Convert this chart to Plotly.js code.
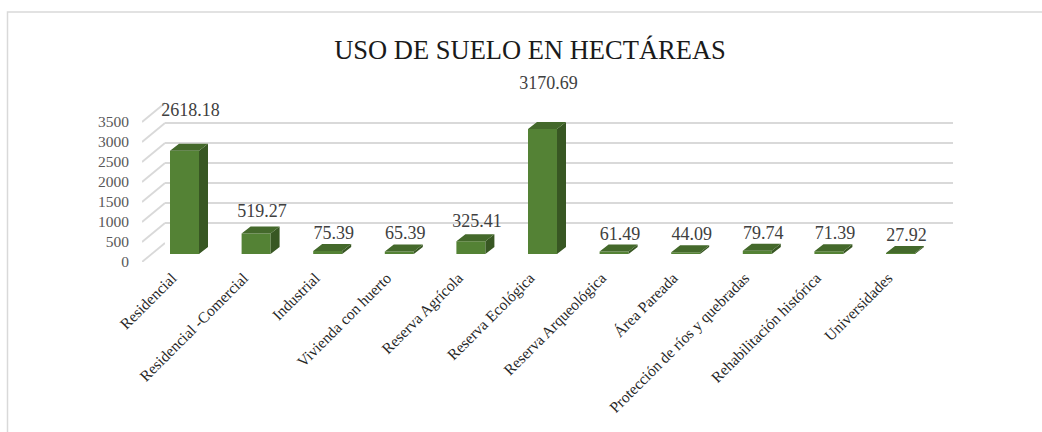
<!DOCTYPE html>
<html>
<head>
<meta charset="utf-8">
<script src="https://cdn.plot.ly/plotly-3.0.1.min.js"></script>
<style>html,body{margin:0;padding:0;background:#fff;}#chart{width:1042px;height:432px;}</style>
</head>
<body>
<div id="chart"></div>
<script>
// ---- data ----
const categories = [
  "Residencial", "Residencial -Comercial", "Industrial", "Vivienda con huerto",
  "Reserva Agrícola", "Reserva Ecológica", "Reserva Arqueológica", "Área Pareada",
  "Protección de ríos y quebradas", "Rehabilitación histórica", "Universidades"
];
const hectareas = [2618.18, 519.27, 75.39, 65.39, 325.41, 3170.69, 61.49, 44.09, 79.74, 71.39, 27.92];
const valueLabels = ["2618.18", "519.27", "75.39", "65.39", "325.41", "3170.69", "61.49", "44.09", "79.74", "71.39", "27.92"];
const yTicks = [0, 500, 1000, 1500, 2000, 2500, 3000, 3500];
const chartTitle = "USO DE SUELO EN HECTÁREAS";

// ---- geometry helpers (pixel -> paper) ----
const W = 1042, H = 432;
const fx = px => px / W;
const fy = py => 1 - py / H;

const idx = categories.map((_, i) => i);
const barW = 0.405;          // in category units
const depthX = 9 / 71.6;     // category units
const depthV = 7 / 0.0394;   // value units

// side and top faces computed from the values
const sideX = [], sideY = [], topX = [], topY = [];
hectareas.forEach((v, i) => {
  const l = i - barW / 2, r = i + barW / 2;
  sideX.push(r, r + depthX, r + depthX, r, null);
  sideY.push(0, depthV, v + depthV, v, null);
  topX.push(l, l + depthX, r + depthX, r, null);
  topY.push(v, v + depthV, v + depthV, v, null);
});

// diagonal wall lines for each tick
const diagX = [], diagY = [];
yTicks.forEach(t => { diagX.push(0, 1, null); diagY.push(t, t + 475, null); });

const serif = "Liberation Serif, Times New Roman, serif";

const traces = [
  // back-wall grid holder
  {type: "scatter", x: [0, 1], y: [0, 0], xaxis: "x", yaxis: "y", mode: "lines",
   line: {width: 0, color: "rgba(0,0,0,0)"}, hoverinfo: "skip", showlegend: false},
  // diagonal lines
  {type: "scatter", x: diagX, y: diagY, xaxis: "x2", yaxis: "y2", mode: "lines",
   line: {width: 1.8, color: "#d9d9d9"}, hoverinfo: "skip", showlegend: false},
  // bar fronts
  {type: "bar", x: idx, y: hectareas, xaxis: "x3", yaxis: "y3", width: barW,
   marker: {color: "#548235", line: {width: 0}}, hoverinfo: "skip", showlegend: false},
  // side faces
  {type: "scatter", x: sideX, y: sideY, xaxis: "x3", yaxis: "y3", mode: "lines",
   fill: "toself", fillcolor: "#385723", line: {width: 0, color: "#385723"},
   hoverinfo: "skip", showlegend: false},
  // top faces
  {type: "scatter", x: topX, y: topY, xaxis: "x3", yaxis: "y3", mode: "lines",
   fill: "toself", fillcolor: "#44692b", line: {width: 0, color: "#44692b"},
   hoverinfo: "skip", showlegend: false},
  // data labels
  {type: "scatter", x: idx, y: hectareas, xaxis: "x4", yaxis: "y4", mode: "text",
   text: valueLabels, textposition: "middle center",
   textfont: {family: serif, size: 18, color: "#404040"},
   cliponaxis: false, hoverinfo: "skip", showlegend: false},
  // category label axis holder
  {type: "scatter", x: idx, y: idx.map(() => 0), xaxis: "x5", yaxis: "y3", mode: "markers",
   marker: {size: 0.1, color: "rgba(0,0,0,0)"}, hoverinfo: "skip", showlegend: false}
];

const layout = {
  width: W, height: H,
  margin: {l: 0, r: 0, t: 0, b: 0},
  paper_bgcolor: "#ffffff", plot_bgcolor: "rgba(0,0,0,0)",
  showlegend: false,
  title: {text: chartTitle, x: fx(530), y: fy(50), xanchor: "center", yanchor: "middle",
          xref: "paper", yref: "paper",
          font: {family: serif, size: 26.5, color: "#1a1a1a"}},
  // back wall grid
  xaxis: {domain: [fx(165), fx(953)], range: [0, 1], visible: false, fixedrange: true},
  yaxis: {domain: [fy(243), fy(103)], range: [0, 3500], anchor: "x",
          tickmode: "array", tickvals: yTicks, showgrid: true, gridcolor: "#d9d9d9",
          gridwidth: 2, zeroline: false, showline: false, showticklabels: false,
          ticks: "", fixedrange: true},
  // diagonal + tick labels
  xaxis2: {domain: [fx(142), fx(165)], range: [0, 1], visible: false, anchor: "y2", fixedrange: true},
  yaxis2: {domain: [fy(262), fy(102)], range: [0, 4000], anchor: "x2",
           tickmode: "array", tickvals: yTicks, ticktext: yTicks.map(String),
           showgrid: false, zeroline: false, showline: false, ticks: "",
           ticklabelstandoff: 12,
           tickfont: {family: serif, size: 15.5, color: "#595959"}, fixedrange: true},
  // bars
  xaxis3: {domain: [fx(148.7), fx(936.3)], range: [-0.5, 10.5], anchor: "y3",
           showticklabels: false, showgrid: false, zeroline: false, showline: false, ticks: "",
           fixedrange: true},
  yaxis3: {domain: [fy(254), fy(254 - 0.0394 * 4000)], range: [0, 4000], anchor: "x3",
           visible: false, fixedrange: true},
  // labels
  xaxis4: {domain: [fx(154.7), fx(942.3)], range: [-0.5, 10.5], anchor: "y4", visible: false, fixedrange: true},
  yaxis4: {domain: [fy(238), fy(238 - 0.0483 * 4000)], range: [0, 4000], anchor: "x4",
           visible: false, fixedrange: true},
  // category labels (slightly shifted)
  xaxis5: {domain: [fx(136.2), fx(923.8)], range: [-0.5, 10.5], anchor: "y3",
           tickmode: "array", tickvals: idx, ticktext: categories, tickangle: -45,
           showgrid: false, zeroline: false, showline: false, ticks: "",
           ticklabelstandoff: 11,
           tickfont: {family: serif, size: 15.5, color: "#262626"}, fixedrange: true},
  shapes: [
    {type: "rect", xref: "paper", yref: "paper", x0: fx(7.5), y0: -0.05, x1: 1.05, y1: fy(12),
     line: {color: "#d9d9d9", width: 1.5}, fillcolor: "rgba(0,0,0,0)", layer: "below"}
  ]
};

Plotly.newPlot("chart", traces, layout, {displayModeBar: false, staticPlot: true});
</script>
</body>
</html>
